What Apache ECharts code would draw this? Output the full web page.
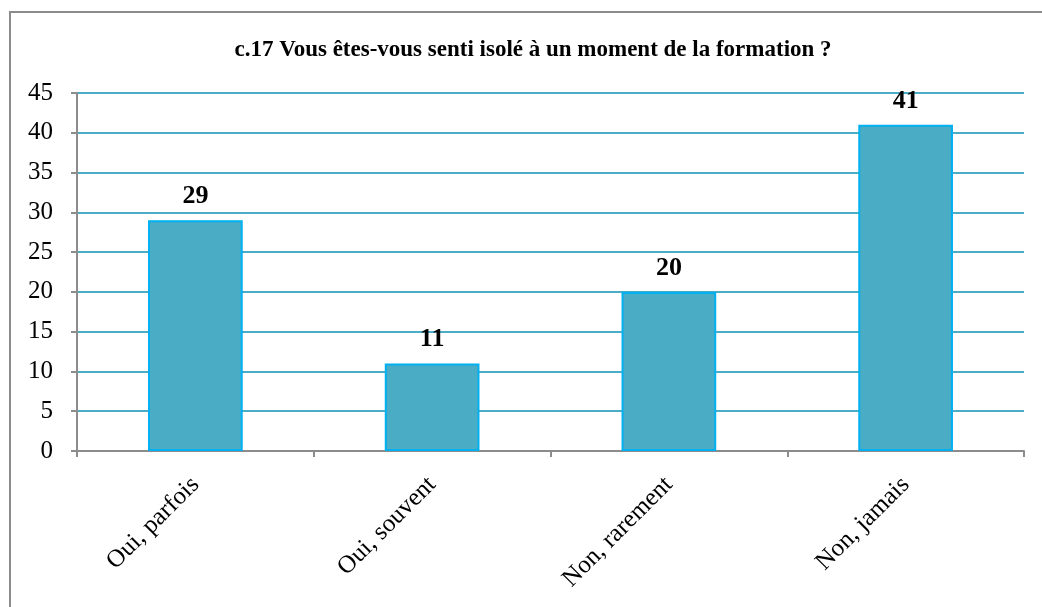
<!DOCTYPE html>
<html>
<head>
<meta charset="utf-8">
<script src="https://cdn.jsdelivr.net/npm/echarts@6/dist/echarts.min.js"></script>
<style>
  html, body { margin: 0; padding: 0; background: #fff; }
  #chart { width: 1042px; height: 607px; }
</style>
</head>
<body>
<div id="chart"></div>
<script>
const categories = ['Oui, parfois', 'Oui, souvent', 'Non, rarement', 'Non, jamais'];
const values = [29, 11, 20, 41];
const yTicks = { min: 0, max: 45, interval: 5 };

const serif = '"Liberation Serif", "DejaVu Serif", serif';
const myChart = echarts.init(document.getElementById('chart'));

const option = {
  backgroundColor: '#fff',
  animation: false,
  title: {
    text: 'c.17 Vous êtes-vous senti isolé à un moment de la formation ?',
    left: 528,
    top: 34,
    textAlign: 'center',
    textStyle: { fontFamily: serif, fontSize: 23, fontWeight: 'bold', color: '#000' }
  },
  graphic: [{
    type: 'rect',
    shape: { x: 10, y: 12, width: 1100, height: 700 },
    style: { fill: 'none', stroke: '#8c8c8c', lineWidth: 2 },
    silent: true
  }],
  grid: { left: 77, right: 18, top: 93, bottom: 156 },
  xAxis: {
    type: 'category',
    data: categories,
    axisLine: { lineStyle: { color: '#8c8c8c', width: 2 } },
    axisTick: { show: true, length: 6, lineStyle: { color: '#8c8c8c', width: 2 } },
    axisLabel: {
      rotate: 45,
      margin: 30,
      fontFamily: serif,
      fontSize: 25,
      color: '#000'
    }
  },
  yAxis: {
    type: 'value',
    min: yTicks.min,
    max: yTicks.max,
    interval: yTicks.interval,
    axisLine: { show: true, lineStyle: { color: '#8c8c8c', width: 2 } },
    axisTick: { show: true, length: 6, lineStyle: { color: '#8c8c8c', width: 2 } },
    axisLabel: { margin: 24, fontFamily: serif, fontSize: 25, color: '#000' },
    splitLine: { lineStyle: { color: '#4bacc6', width: 2 } }
  },
  series: [{
    type: 'bar',
    data: values,
    barWidth: '40%',
    itemStyle: { color: '#4bacc6', borderColor: '#00b0f0', borderWidth: 2 },
    label: {
      show: true,
      position: 'top',
      distance: 11,
      fontFamily: serif,
      fontSize: 26,
      fontWeight: 'bold',
      color: '#000'
    }
  }]
};

myChart.setOption(option);
window.addEventListener('resize', function () {
  myChart.resize();
});
</script>
</body>
</html>
